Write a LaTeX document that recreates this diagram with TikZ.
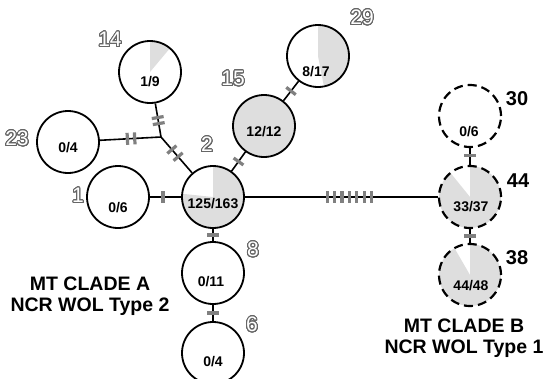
\documentclass[tikz,border=0pt]{standalone}
\usepackage{fontspec}
\setmainfont{Liberation Sans}
\usepackage[copies]{contour}
\contourlength{0.95pt}
\contournumber{32}
\usetikzlibrary{calc}
\pgfdeclarelayer{bg}
\pgfsetlayers{bg,main}
\definecolor{pie}{gray}{0.87}
\definecolor{tickc}{gray}{0.5}
\definecolor{outl}{gray}{0.4}
\tikzset{
 hap/.style={circle, draw=black, line width=1.8pt, minimum size=62pt, inner sep=0pt},
 haphb/.style={hap, dash pattern=on 9pt off 5pt, line width=2.2pt},
 link/.style={line width=1.6pt, black},
 tk/.style={fill=tickc, draw=none, minimum width=3.2pt, minimum height=12pt, inner sep=0pt, sloped},
 cnt/.style={font=\bfseries\fontsize{14}{14}\selectfont, inner sep=0pt},
 lab/.style={font=\fontsize{21}{21}\selectfont, inner sep=0pt},
 labb/.style={font=\bfseries\fontsize{20}{20}\selectfont, inner sep=0pt},
 clade/.style={font=\bfseries\fontsize{19.5}{21}\selectfont, inner sep=0pt, anchor=base},
}
\newcommand{\olab}[1]{\contour{outl}{\textcolor{white}{#1}}}
\begin{document}
\begin{tikzpicture}[x=1pt,y=-1pt]
\useasboundingbox (0,0) rectangle (545,378);
% haplotype circles
\node[hap] (n2) at (213,197) {};
\node[hap] (n15) at (264,126) {};
\node[hap] (n29) at (318,56) {};
\node[hap] (n14) at (150,72) {};
\node[hap] (n23) at (68,142) {};
\node[hap] (n1) at (118,197) {};
\node[hap] (n8) at (213,273) {};
\node[hap] (n6) at (213,353) {};
\node[haphb] (n30) at (470,116) {};
\node[haphb] (n44) at (470,197) {};
\node[haphb] (n38) at (470,275) {};
% pie fills
\begin{pgfonlayer}{bg}
\fill[pie] (n2.center) -- ++(-90:31) arc[start angle=-90,end angle=186,radius=31] -- cycle;
\fill[pie] (n15.center) circle[radius=31];
\fill[pie] (n29.center) -- ++(-90:31) arc[start angle=-90,end angle=79,radius=31] -- cycle;
\fill[pie] (n14.center) -- ++(-90:31) arc[start angle=-90,end angle=-50,radius=31] -- cycle;
\fill[pie] (n44.center) -- ++(-90:31) arc[start angle=-90,end angle=231,radius=31] -- cycle;
\fill[pie] (n38.center) -- ++(-90:31) arc[start angle=-90,end angle=240,radius=31] -- cycle;
\end{pgfonlayer}
% connectors
\coordinate (j) at (161,137);
\draw[link] (n2) -- (n15) node[tk, midway]{};
\draw[link] (n15) -- (n29) node[tk, midway]{};
\draw[link] (n14) -- (j) node[tk,pos=0.42]{} node[tk,pos=0.6]{};
\draw[link] (n23) -- (j) node[tk,pos=0.45]{} node[tk,pos=0.57]{};
\draw[link] (j) -- (n2) node[tk,pos=0.35]{} node[tk,pos=0.55]{};
\draw[link] (n1) -- (n2) node[tk,pos=0.42]{};
\draw[link] (n2) -- (n44) foreach \p in {0.426,0.4645,0.503,0.5415,0.58,0.6185,0.657}{node[tk,pos=\p]{}};
\draw[link] (n2) -- (n8) node[tk,midway]{};
\draw[link] (n8) -- (n6) node[tk,midway]{};
\draw[link] (n30) -- (n44) node[tk,pos=0.45]{};
\draw[link] (n44) -- (n38) node[tk,midway]{};
% counts
\node[cnt] (t2) at (213,204) {125/163};
\node[cnt] (t15) at (264,132) {12/12};
\node[cnt] (t29) at (316,72) {8/17};
\node[cnt] (t14) at (150,82) {1/9};
\node[cnt] (t23) at (68,148) {0/4};
\node[cnt] (t1) at (118,208) {0/6};
\node[cnt] (t8) at (211,282) {0/11};
\node[cnt] (t6) at (213,362) {0/4};
\node[cnt] (t30) at (469,132) {0/6};
\node[cnt] (t44) at (471,207) {33/37};
\node[cnt] (t38) at (471,286) {44/48};
% haplotype labels
\node[lab] (l14) at (110,40) {\olab{14}};
\node[lab] (l29) at (362,18) {\olab{29}};
\node[lab] (l15) at (233,79) {\olab{15}};
\node[lab] (l2) at (207,145) {\olab{2}};
\node[lab] (l23) at (17,139) {\olab{23}};
\node[lab] (l1) at (78,196) {\olab{1}};
\node[lab] (l8) at (253,250) {\olab{8}};
\node[lab] (l6) at (252,325) {\olab{6}};
\node[labb] (l30) at (517,99) {30};
\node[labb] (l44) at (518,181) {44};
\node[labb] (l38) at (517,258) {38};
% clade captions
\node[clade] (cA1) at (90,290) {MT CLADE A};
\node[clade] (cA2) at (90,311) {NCR WOL Type 2};
\node[clade] (cB1) at (464,332) {MT CLADE B};
\node[clade] (cB2) at (464,353) {NCR WOL Type 1};
\end{tikzpicture}
\end{document}
